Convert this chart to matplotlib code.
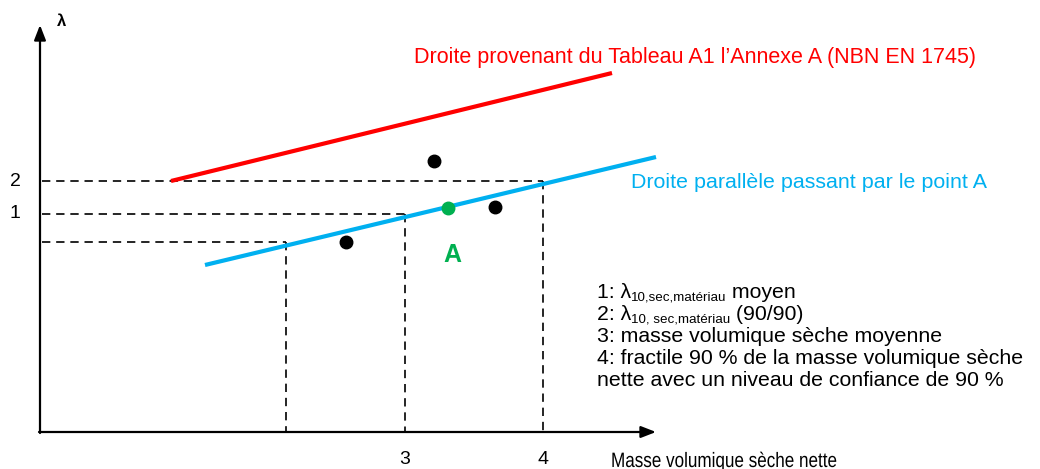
import matplotlib.pyplot as plt
from matplotlib.textpath import TextPath
from matplotlib.patches import PathPatch
from matplotlib.font_manager import FontProperties
import matplotlib.transforms as mtransforms

# diagram coordinates (x to the right, y downward, like the drawing)
axis_origin = (40, 432)
x_axis_end = 656
y_axis_end = 25

red_line_x = [171, 612]
red_line_y = [181, 73]
blue_line_x = [205, 656]
blue_line_y = [265, 157]

# dashed guides: level on the lambda axis, x where they drop
guide_levels = [181, 214, 242]
guide_drop_x = [543, 405, 286]
level_labels = ["2", "1", ""]
drop_labels = ["4", "3", ""]

points_x = [346, 434, 495]
points_y = [242, 161, 207]
point_a = (448, 208)

legend_lines = [
    ("1: λ", "10,sec,matériau", " moyen"),
    ("2: λ", "10, sec,matériau", " (90/90)"),
    ("3: masse volumique sèche moyenne", "", ""),
    ("4: fractile 90 % de la masse volumique sèche", "", ""),
    ("nette avec un niveau de confiance de 90 %", "", ""),
]
x_title = "Masse volumique sèche nette"

FONT = "Liberation Sans"
FS = 15.3

fig = plt.figure(figsize=(10.4, 4.69), dpi=100)
ax = fig.add_axes([0, 0, 1, 1])
ax.set_xlim(0, 1040)
ax.set_ylim(469, 0)
ax.axis("off")

ox, oy = axis_origin
# axes with arrows
ax.annotate("", xy=(x_axis_end, oy), xytext=(ox - 1, oy),
            arrowprops=dict(arrowstyle="-|>,head_length=0.9,head_width=0.35",
                            color="black", lw=1.6, shrinkA=0, shrinkB=0))
ax.annotate("", xy=(ox, y_axis_end), xytext=(ox, oy + 1),
            arrowprops=dict(arrowstyle="-|>,head_length=0.9,head_width=0.35",
                            color="black", lw=1.6, shrinkA=0, shrinkB=0))
ax.text(ox + 17, 22, "λ", fontsize=12, fontweight="bold",
        family=FONT, ha="left", va="center")

# dashed guides
for lev, dx, ll, dl in zip(guide_levels, guide_drop_x, level_labels, drop_labels):
    ax.plot([ox + 2, dx], [lev, lev], color="black", lw=1.2, ls=(0, (5, 3.5)))
    ax.plot([dx, dx], [lev, oy], color="black", lw=1.2, ls=(0, (5, 3.5)))
    if ll:
        ax.text(15, lev, ll, fontsize=14, family=FONT, ha="center", va="center")
    if dl:
        ax.text(dx, 460, dl, fontsize=14, family=FONT, ha="center", va="center")

ax.plot(red_line_x, red_line_y, color="#ff0000", lw=3, solid_capstyle="butt")
ax.plot(blue_line_x, blue_line_y, color="#00b0f0", lw=3, solid_capstyle="butt")

ax.plot(points_x, points_y, "o", color="black", ms=9, zorder=5)
ax.plot(point_a[0], point_a[1], "o", color="#00b050", ms=9, zorder=5)
ax.text(point_a[0] + 4, 255, "A", color="#00b050", fontsize=18,
        fontweight="bold", family=FONT, ha="center", va="center")

ax.text(414, 58, "Droite provenant du Tableau A1 l’Annexe A (NBN EN 1745)",
        color="#ff0000", fontsize=15.5, family=FONT, ha="left", va="center")
ax.text(631, 183, "Droite parallèle passant par le point A",
        color="#00b0f0", fontsize=15.4, family=FONT, ha="left", va="center")

# x axis title is horizontally condensed in the original
tp = TextPath((0, 0), x_title, size=15 * 100 / 72, prop=FontProperties(family=FONT))
tr = mtransforms.Affine2D().scale(0.82, 1.0) + \
    mtransforms.ScaledTranslation(611, 467, ax.transData)
ax.add_patch(PathPatch(tp, transform=tr, facecolor="black", edgecolor="none"))

# legend block with subscripts
fig.canvas.draw()
renderer = fig.canvas.get_renderer()
inv = ax.transData.inverted()
for i, (main, sub, rest) in enumerate(legend_lines):
    y = 292 + i * 22
    t = ax.text(597, y, main, fontsize=FS, family=FONT, ha="left", va="center")
    if sub:
        bb = t.get_window_extent(renderer)
        xend = inv.transform((bb.x1, bb.y0))[0]
        s = ax.text(xend, y + 5, sub, fontsize=9.6, family=FONT,
                    ha="left", va="center")
        bb2 = s.get_window_extent(renderer)
        xend2 = inv.transform((bb2.x1, bb2.y0))[0]
        ax.text(xend2, y, rest, fontsize=FS, family=FONT, ha="left", va="center")

fig.savefig("out.png", dpi=100)
